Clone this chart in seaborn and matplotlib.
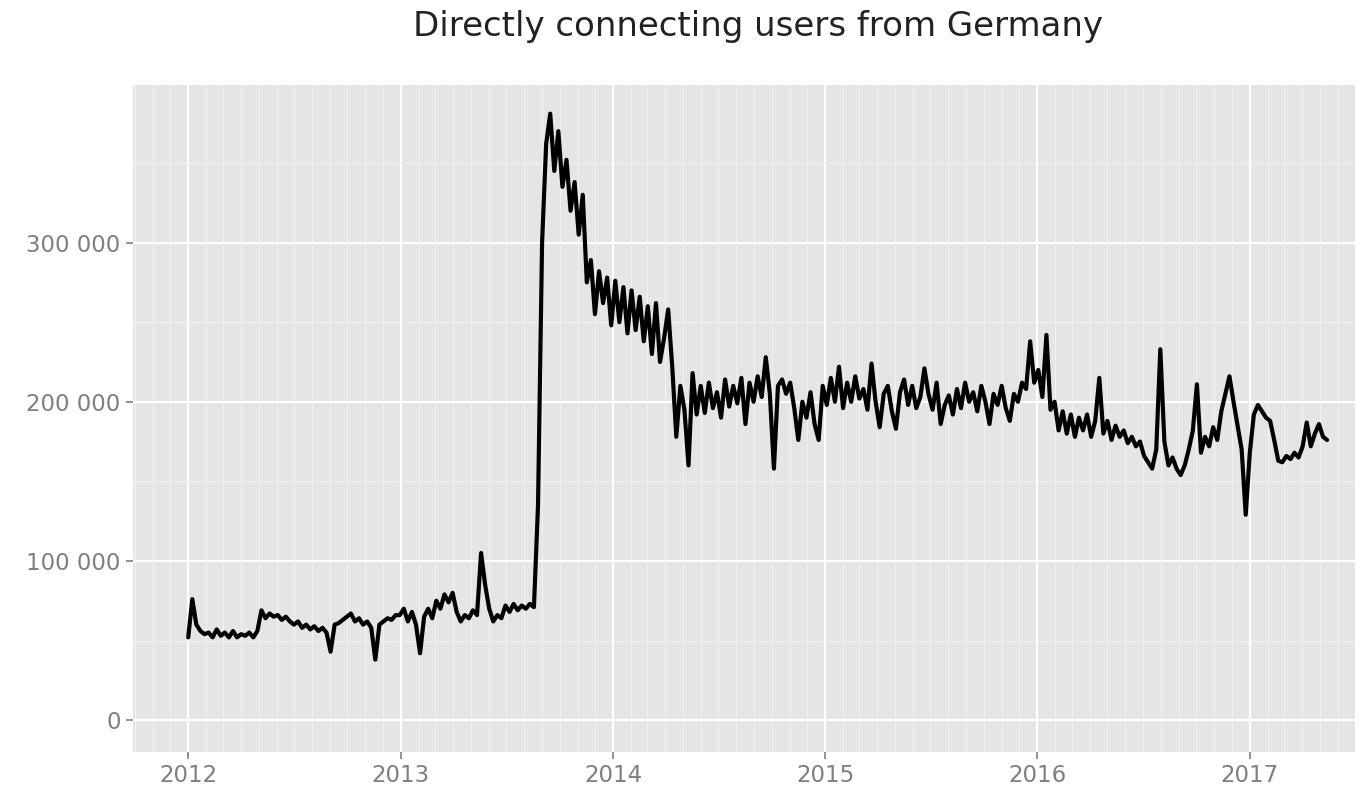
import matplotlib
matplotlib.use("Agg")
import matplotlib.pyplot as plt
import matplotlib.dates as mdates
from matplotlib.ticker import MultipleLocator, FuncFormatter
import numpy as np
import pandas as pd
import seaborn as sns

# weekly readings (thousands of users), starting 2012-01-01
users_2012 = [52, 76, 60, 56, 54, 55, 52, 57, 53, 55, 52, 56, 52, 54, 53, 55, 52, 56,
              69, 64, 67, 65, 66, 63, 65, 62, 60, 62, 58, 60, 57, 59, 56, 58, 55, 43,
              60, 61, 63, 65, 67, 62, 64, 60, 62, 58, 38, 60, 62, 64, 63, 66]
users_2013 = [66, 70, 62, 68, 60, 42, 65, 70, 64, 75,
              70, 79, 74, 80, 68, 62, 66, 64, 69, 66,
              105, 85, 70, 62, 66, 64, 72, 68, 73, 69,
              72, 70, 73, 71, 135, 300, 362, 381, 345, 370,
              335, 352, 320, 338, 305, 330, 275, 289, 255, 282,
              262, 278]
users_2014 = [248, 276, 250, 272, 243, 270, 245, 266, 238, 260,
              230, 262, 225, 240, 258, 222, 178, 210, 195, 160,
              218, 192, 210, 193, 212, 196, 206, 190, 214, 197,
              210, 199, 215, 186, 212, 200, 216, 203, 228, 205,
              158, 210, 214, 205, 212, 196, 176, 200, 190, 206,
              186, 176]
users_2015 = [210, 198, 215, 200, 222, 196, 212, 200, 216, 202, 208,
              195, 224, 200, 184, 205, 210, 194, 183, 206, 214,
              198, 210, 196, 203, 221, 205, 195, 212, 186, 198,
              204, 192, 208, 196, 212, 200, 206, 194, 210, 200,
              186, 205, 198, 210, 196, 188, 205, 200, 212, 208,
              238]
users_2016 = [212, 220, 203, 242, 195, 200, 182, 194, 180, 192, 178,
              190, 182, 192, 178, 188, 215, 180, 188, 176, 185,
              178, 182, 174, 178, 172, 175, 166, 162, 158, 170,
              233, 175, 160, 165, 158, 154, 160, 170, 182, 211,
              168, 178, 172, 184, 176, 194, 205, 216, 200, 185,
              170]
users_2017 = [129, 168, 192, 198, 194, 190, 188, 176, 163, 162,
              166, 164, 168, 165, 172, 187, 172, 180, 186, 178, 176]

values = users_2012 + users_2013 + users_2014 + users_2015 + users_2016 + users_2017
dates = pd.date_range("2012-01-01", periods=len(values), freq="7D")
df = pd.DataFrame({"date": dates, "users": np.array(values) * 1000})

sns.set_style("darkgrid", {"axes.facecolor": "#E5E5E5", "grid.color": "white"})
plt.rcParams["font.family"] = ["DejaVu Sans"]

fig = plt.figure(figsize=(13.63, 7.95), dpi=100)
ax = fig.add_axes([0.0976, 0.0541, 0.8965, 0.839])

sns.lineplot(data=df, x="date", y="users", color="black", linewidth=3.0, ax=ax)

ax.set_xlim(pd.Timestamp("2011-09-28"), pd.Timestamp("2017-07-01"))
ax.set_ylim(-20000, 399000)

ax.xaxis.set_major_locator(mdates.YearLocator())
ax.xaxis.set_major_formatter(mdates.DateFormatter("%Y"))
ax.xaxis.set_minor_locator(mdates.MonthLocator())
ax.yaxis.set_major_locator(MultipleLocator(100000))
ax.yaxis.set_minor_locator(MultipleLocator(50000))
ax.yaxis.set_major_formatter(FuncFormatter(lambda v, p: f"{int(v):,}".replace(",", " ")))

ax.grid(which="major", color="white", linewidth=1.6)
ax.grid(which="minor", color="#F2F2F2", linewidth=0.8)
ax.set_axisbelow(True)

for s in ax.spines.values():
    s.set_visible(False)

ax.tick_params(which="major", length=5, width=1.2, color="#7F7F7F",
               labelcolor="#7F7F7F", labelsize=16.5, pad=4, bottom=True, left=True)
ax.tick_params(which="minor", length=0)
ax.set_xlabel("")
ax.set_ylabel("")

fig.text(0.556, 0.967, "Directly connecting users from Germany", ha="center",
         va="center", fontsize=24.5, color="#222222")

fig.savefig("out.png", dpi=100)
